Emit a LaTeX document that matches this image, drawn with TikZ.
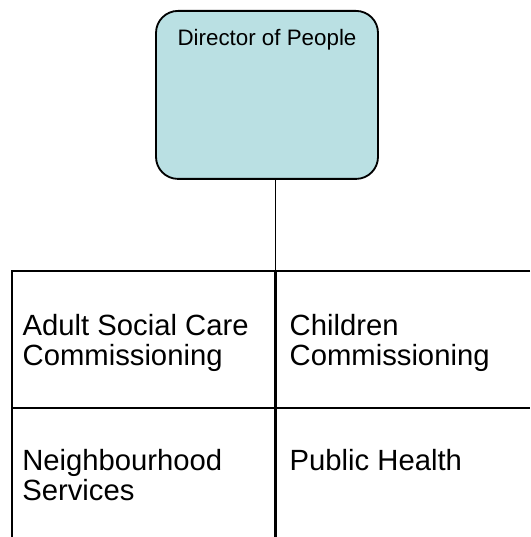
\documentclass[tikz,border=0pt]{standalone}
\usepackage{fontspec}
\setmainfont{Liberation Sans}
\definecolor{boxfill}{RGB}{186,224,227}

\begin{document}
\begin{tikzpicture}[
    headbox/.style={draw, line width=1.3pt, rounded corners=0.55cm, fill=boxfill,
        inner sep=0pt, minimum width=5.55cm, text height=0.875cm, text depth=3.325cm,
        font=\fontsize{15.9}{19}\selectfont},
    cell/.style={anchor=base west, inner sep=0pt, align=left,
        font=\fontsize{20.8}{21.34}\selectfont},
    grid/.style={line width=1.6pt},
    link/.style={line width=1.1pt}
]

    \useasboundingbox (0, 0) rectangle (13.25, 13.425);

    % director
    \node[headbox, anchor=north] (dir) at (6.675, 13.175) {Director of People};
    \coordinate (tabtop) at (6.89, 6.6);
    \draw[link] (dir.south -| tabtop) -- (tabtop);

    % table (base anchor sits on the last line)
    \draw[grid] (13.25, 6.65) -- (0.3, 6.65) -- (0.3, 0);
    \draw[grid] (6.89, 6.65) -- (6.89, 0);
    \draw[grid] (0.3, 3.2325) -- (13.25, 3.2325);

    \node[cell] (asc) at (0.56, 4.275) {Adult Social Care\\Commissioning};
    \node[cell] (chc) at (7.235, 4.275) {Children\\Commissioning};
    \node[cell] (nbs) at (0.55, 0.9) {Neighbourhood\\Services};
    \node[cell] (pbh) at (7.235, 1.65) {Public Health};

\end{tikzpicture}
\end{document}
